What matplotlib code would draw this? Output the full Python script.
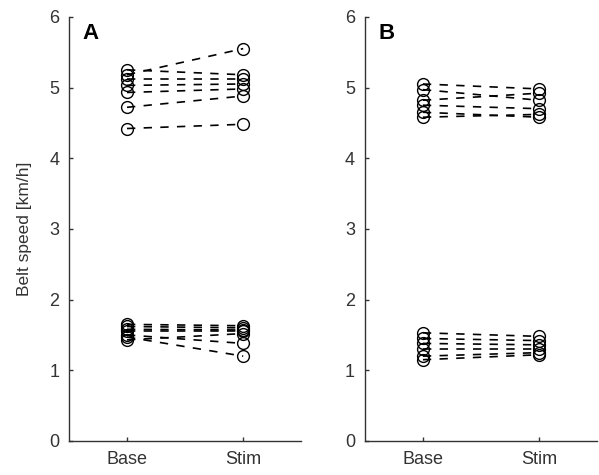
import matplotlib
matplotlib.use("Agg")
import matplotlib.pyplot as plt

plt.rcParams["font.family"] = ["Liberation Sans", "DejaVu Sans"]

conditions = ["Base", "Stim"]

# Panel A: fast and slow groups (km/h)
a_fast_base = [5.25, 5.18, 5.12, 5.03, 4.93, 4.72, 4.42]
a_fast_stim = [5.18, 5.55, 5.12, 5.05, 4.98, 4.88, 4.48]
a_slow_base = [1.65, 1.62, 1.58, 1.55, 1.50, 1.47, 1.43]
a_slow_stim = [1.63, 1.60, 1.57, 1.55, 1.38, 1.20, 1.52]

# Panel B
b_fast_base = [5.05, 4.97, 4.82, 4.75, 4.65, 4.58]
b_fast_stim = [4.98, 4.82, 4.92, 4.70, 4.58, 4.62]
b_slow_base = [1.53, 1.45, 1.38, 1.30, 1.20, 1.15]
b_slow_stim = [1.48, 1.42, 1.36, 1.30, 1.25, 1.22]

panels = [
    ("A", [(a_fast_base, a_fast_stim), (a_slow_base, a_slow_stim)]),
    ("B", [(b_fast_base, b_fast_stim), (b_slow_base, b_slow_stim)]),
]

fig = plt.figure(figsize=(5.99, 4.75), dpi=100)
positions = [[0.115, 0.0716, 0.388, 0.893], [0.609, 0.0716, 0.388, 0.893]]
grey = "#333333"

for (letter, groups), pos in zip(panels, positions):
    ax = fig.add_axes(pos)
    for base, stim in groups:
        for b, s in zip(base, stim):
            ax.plot([1, 2], [b, s], linestyle=(0, (5, 5)), color="black",
                    linewidth=1.2, marker="o", markersize=8.5,
                    markerfacecolor="none", markeredgecolor="black",
                    markeredgewidth=1.0)
    ax.set_xlim(0.5, 2.5)
    ax.set_ylim(0, 6)
    ax.set_xticks([1, 2])
    ax.set_xticklabels(conditions)
    ax.set_yticks(range(0, 7))
    ax.spines["top"].set_visible(False)
    ax.spines["right"].set_visible(False)
    for sp in ("left", "bottom"):
        ax.spines[sp].set_color(grey)
        ax.spines[sp].set_linewidth(1.0)
    ax.tick_params(direction="in", length=3, width=1, colors=grey,
                   labelsize=13, labelcolor=grey, pad=7)
    ax.text(0.06, 0.985, letter, transform=ax.transAxes, fontsize=16,
            fontweight="bold", va="top", ha="left")
    if letter == "A":
        ax.set_ylabel("Belt speed [km/h]", fontsize=12.5, color=grey,
                      labelpad=12)

fig.savefig("out.png", dpi=100)
